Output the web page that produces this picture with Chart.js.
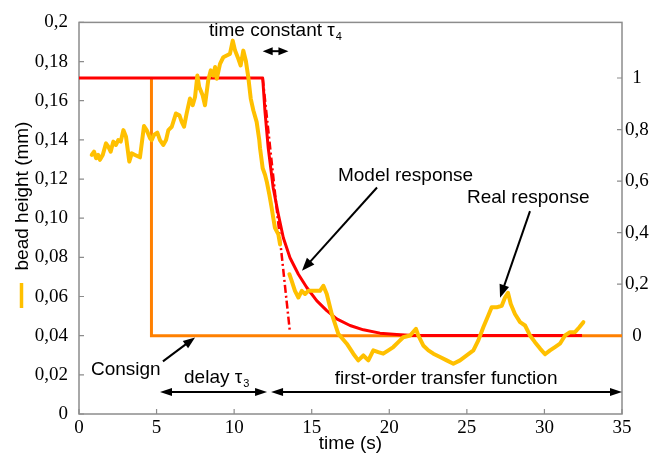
<!DOCTYPE html>
<html><head><meta charset="utf-8">
<script src="https://cdn.jsdelivr.net/npm/chart.js@4/dist/chart.umd.min.js"></script>
<style>html,body{margin:0;padding:0;background:#fff;}#wrap{width:649px;height:457px;position:relative;}</style>
</head><body><div id="wrap"><canvas id="c"></canvas></div>
<script>
// ---- data (time in s, bead height in mm) ----
const realTime = [0.82,0.97,1.10,1.24,1.35,1.53,1.74,1.89,2.04,2.21,2.38,2.53,2.69,2.86,3.03,3.24,3.40,3.61,3.93,4.19,4.36,4.58,4.69,4.83,5.05,5.22,5.43,5.61,5.76,5.98,6.25,6.47,6.62,6.77,6.94,7.15,7.33,7.48,7.63,7.75,7.97,8.12,8.33,8.49,8.66,8.77,8.88,9.09,9.30,9.52,9.73,9.91,10.06,10.27,10.42,10.59,10.75,10.91,11.07,11.24,11.45,11.62,11.67,11.84,11.99,12.10,12.27,12.42,12.52,12.63,12.85,12.96,13.26,13.56,13.71,13.92,14.14,14.36,14.57,14.78,15.10,15.53,15.75,15.97,16.29,16.71,17.26,17.68,18.00,18.33,18.65,18.97,19.29,19.61,19.94,20.26,20.58,20.90,21.34,21.72,21.87,22.19,22.52,22.84,23.27,23.70,24.13,24.56,24.99,25.42,25.74,26.06,26.38,26.60,26.92,27.25,27.46,27.65,27.83,28.10,28.43,28.75,29.07,29.39,29.72,30.04,30.36,30.68,31.00,31.33,31.65,31.97,32.25,32.51];
const realHeight = [0.1323,0.1340,0.1306,0.1323,0.1298,0.1323,0.1382,0.1365,0.1340,0.1391,0.1374,0.1399,0.1391,0.1450,0.1416,0.1289,0.1331,0.1323,0.1311,0.1471,0.1450,0.1408,0.1399,0.1425,0.1437,0.1399,0.1374,0.1399,0.1450,0.1467,0.1535,0.1526,0.1492,0.1467,0.1535,0.1611,0.1577,0.1619,0.1729,0.1670,0.1628,0.1577,0.1704,0.1755,0.1729,0.1772,0.1712,0.1788,0.1822,0.1831,0.1839,0.1907,0.1856,0.1814,0.1780,0.1856,0.1806,0.1721,0.1611,0.1550,0.1492,0.1399,0.1357,0.1255,0.1222,0.1188,0.1120,0.1052,0.1002,0.0951,0.0917,0.0866,null,0.0714,0.0680,0.0629,0.0595,0.0629,0.0613,0.0629,0.0629,0.0629,0.0655,0.0613,0.0511,0.0410,0.0359,0.0308,0.0274,0.0299,0.0274,0.0325,0.0316,0.0308,0.0325,0.0342,0.0367,0.0392,0.0401,0.0435,0.0401,0.0350,0.0325,0.0308,0.0291,0.0274,0.0257,0.0274,0.0299,0.0325,0.0376,0.0443,0.0503,0.0545,0.0545,0.0553,0.0595,0.0619,0.0562,0.0511,0.0469,0.0452,0.0401,0.0367,0.0334,0.0305,0.0325,0.0342,0.0359,0.0401,0.0418,0.0418,0.0443,0.0469];
const modelTime = [0,11.84,11.99,12.20,12.52,12.85,13.17,13.60,14.14,14.68,15.32,15.97,16.61,17.47,18.33,19.40,20.48,21.53,32.42];
const modelHeight = [0.1716,0.1716,0.1543,0.1357,0.1154,0.1019,0.0900,0.0798,0.0714,0.0646,0.0579,0.0528,0.0486,0.0452,0.0430,0.0413,0.0406,0.0401,0.0401];
const consignTime = [4.67,4.67,35];
const consignHeight = [0.1716,0.04,0.04];
const tangentTime = [11.84,13.60];
const tangentHeight = [0.1716,0.0416];
const xTicks = [0,5,10,15,20,25,30,35];
const leftTicks = [0,0.02,0.04,0.06,0.08,0.10,0.12,0.14,0.16,0.18,0.2];
const leftTickLabels = ['0','0,02','0,04','0,06','0,08','0,10','0,12','0,14','0,16','0,18','0,2'];
const rightTicks = [0,0.2,0.4,0.6,0.8,1];
const rightTickLabels = ['0','0,2','0,4','0,6','0,8','1'];
const consignLow = 0.04, consignHigh = 0.1716;   // consign 0 and 1 in mm

const pts = (xs, ys) => xs.map((t,i)=>({x:t, y:ys[i]}));
const SERIF = 'Liberation Serif, Times New Roman, serif';
const SANS = 'Liberation Sans, Arial, sans-serif';

function arrowHead(ctx, x0, y0, x1, y1, len, half){
  const a = Math.atan2(y1-y0, x1-x0);
  ctx.beginPath();
  ctx.moveTo(x1, y1);
  ctx.lineTo(x1 - len*Math.cos(a) + half*Math.sin(a), y1 - len*Math.sin(a) - half*Math.cos(a));
  ctx.lineTo(x1 - len*Math.cos(a) - half*Math.sin(a), y1 - len*Math.sin(a) + half*Math.cos(a));
  ctx.closePath(); ctx.fill();
}
function arrow(ctx, x0,y0,x1,y1, both, len, half){
  const a = Math.atan2(y1-y0, x1-x0);
  const sx = both ? x0 + len*0.8*Math.cos(a) : x0, sy = both ? y0 + len*0.8*Math.sin(a) : y0;
  ctx.beginPath(); ctx.moveTo(sx,sy); ctx.lineTo(x1 - len*0.8*Math.cos(a), y1 - len*0.8*Math.sin(a)); ctx.stroke();
  arrowHead(ctx, x0,y0,x1,y1,len,half);
  if (both) arrowHead(ctx, x1,y1,x0,y0,len,half);
}

const annotations = {
  texts: [
    {t:8.38, v:0.1929, text:'time constant τ', sub:'4', align:'left'},
    {t:16.69, v:0.1188, text:'Model response', align:'left'},
    {t:25.01, v:0.1076, text:'Real response', align:'left'},
    {t:0.77, v:0.0198, text:'Consign', align:'left'},
    {t:6.77, v:0.0157, text:'delay τ', sub:'3', align:'left'},
    {t:23.66, v:0.0152, text:'first-order transfer function', align:'center'}
  ],
  arrows: [
    {t0:11.84, v0:0.1853, t1:13.50, v1:0.1853, both:true, len:10, half:4},
    {t0:19.21, v0:0.1157, t1:14.37, v1:0.0731, both:false, len:13, half:5},
    {t0:29.07, v0:0.1036, t1:27.14, v1:0.0594, both:false, len:13, half:5},
    {t0:5.41, v0:0.0269, t1:7.48, v1:0.0391, both:false, len:12, half:4.5},
    {t0:5.22, v0:0.0112, t1:12.12, v1:0.0112, both:true, len:12, half:4},
    {t0:12.38, v0:0.0112, t1:35, v1:0.0112, both:true, len:12, half:4}
  ]
};

const deco = {
  id:'deco',
  beforeDatasetsDraw(chart){
    const {ctx, chartArea:a, scales:{x,y,y2}} = chart;
    ctx.save();
    ctx.strokeStyle = '#8c8c8c'; ctx.lineWidth = 1.5;
    ctx.strokeRect(a.left, a.top, a.right-a.left, a.bottom-a.top);
    ctx.lineWidth = 1.2; ctx.beginPath();
    leftTicks.forEach(v=>{const p=y.getPixelForValue(v); ctx.moveTo(a.left,p); ctx.lineTo(a.left+5,p);});
    rightTicks.forEach(v=>{const p=y2.getPixelForValue(v); ctx.moveTo(a.right,p); ctx.lineTo(a.right-5,p);});
    xTicks.forEach(v=>{const p=x.getPixelForValue(v); ctx.moveTo(p,a.bottom); ctx.lineTo(p,a.bottom-5);});
    ctx.stroke();
    ctx.restore();
  },
  afterDraw(chart){
    const {ctx, chartArea:a, scales:{x,y}} = chart;
    ctx.save();
    // left axis title with series marker
    ctx.fillStyle = '#000'; ctx.font = '19px ' + SANS;
    ctx.translate(28, 196); ctx.rotate(-Math.PI/2);
    ctx.textAlign = 'center'; ctx.textBaseline = 'alphabetic';
    ctx.fillText('bead height (mm)', 0, 0);
    ctx.setTransform(1,0,0,1,0,0);
    ctx.strokeStyle = '#FFC000'; ctx.lineWidth = 3.5;
    ctx.beginPath(); ctx.moveTo(21.5, 283); ctx.lineTo(21.5, 308); ctx.stroke();
    // annotation texts
    ctx.fillStyle = '#000';
    annotations.texts.forEach(o=>{
      ctx.font = '19px ' + SANS; ctx.textBaseline = 'alphabetic';
      ctx.textAlign = o.align;
      const px = x.getPixelForValue(o.t), py = y.getPixelForValue(o.v);
      ctx.fillText(o.text, px, py);
      if (o.sub){
        const w = ctx.measureText(o.text).width;
        ctx.font = '11px ' + SANS; ctx.textAlign = 'left';
        ctx.fillText(o.sub, (o.align==='center'? px + w/2 : px + w) + 1, py + 4);
      }
    });
    ctx.strokeStyle = '#000'; ctx.fillStyle = '#000'; ctx.lineWidth = 2;
    annotations.arrows.forEach(o=>{
      arrow(ctx, x.getPixelForValue(o.t0), y.getPixelForValue(o.v0), x.getPixelForValue(o.t1), y.getPixelForValue(o.v1), o.both, o.len, o.half);
    });
    ctx.restore();
  }
};

new Chart(document.getElementById('c'), {
  type:'line',
  data:{ datasets:[
    {label:'Real response', data:pts(realTime, realHeight), borderColor:'#FFC000', borderWidth:4, pointRadius:0, tension:0, spanGaps:false, order:0, borderJoinStyle:'round', borderCapStyle:'round'},
    {label:'Tangent', data:pts(tangentTime, tangentHeight), borderColor:'#FF0000', borderWidth:2.5, borderDash:[8,3,2,3], pointRadius:0, order:1},
    {label:'Model response', data:pts(modelTime, modelHeight), borderColor:'#FF0000', borderWidth:3, pointRadius:0, tension:0, order:2, borderJoinStyle:'round'},
    {label:'Consign', data:pts(consignTime, consignHeight), borderColor:'#FF8000', borderWidth:3, pointRadius:0, order:3}
  ]},
  options:{
    responsive:true, maintainAspectRatio:false, animation:false,
    layout:{padding:{top:20, left:0, right:0, bottom:0}},
    plugins:{legend:{display:false}, tooltip:{enabled:false}, title:{display:false}},
    scales:{
      x:{type:'linear', min:0, max:35,
        afterBuildTicks(s){ s.ticks = xTicks.map(v=>({value:v})); },
        afterFit(s){ s.height = 43; },
        grid:{display:false, drawTicks:false}, border:{display:false},
        ticks:{font:{family:SERIF, size:19}, color:'#000', padding:3, maxRotation:0, callback:(v)=>String(v)},
        title:{display:true, text:'time (s)', font:{family:SANS, size:19}, color:'#000', padding:{top:0,bottom:2}}
      },
      y:{type:'linear', position:'left', min:0, max:0.2,
        afterBuildTicks(s){ s.ticks = leftTicks.map(v=>({value:v})); },
        afterFit(s){ s.width = 79; },
        grid:{display:false, drawTicks:false}, border:{display:false},
        ticks:{font:{family:SERIF, size:19}, color:'#000', padding:11, callback:(v,i)=>leftTickLabels[i]}
      },
      y2:{type:'linear', position:'right',
        min:(0-consignLow)/(consignHigh-consignLow), max:(0.2-consignLow)/(consignHigh-consignLow),
        afterBuildTicks(s){ s.ticks = rightTicks.map(v=>({value:v})); },
        afterFit(s){ s.width = 27; },
        grid:{display:false, drawTicks:false}, border:{display:false},
        ticks:{font:{family:SERIF, size:19}, color:'#000', padding:3, crossAlign:'center', callback:(v,i)=>rightTickLabels[i]}
      }
    }
  },
  plugins:[deco]
});
</script></body></html>
